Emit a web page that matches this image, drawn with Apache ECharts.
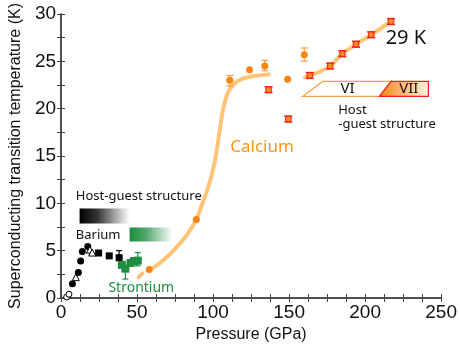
<!DOCTYPE html>
<html><head><meta charset="utf-8">
<script src="https://cdn.jsdelivr.net/npm/echarts@6/dist/echarts.min.js"></script>
<style>html,body{margin:0;padding:0;background:#fff}#c{width:460px;height:349px}</style>
</head><body><div id="c"></div>
<script>
// Pressure (GPa) vs superconducting Tc (K) for Ba, Sr and Ca
const xTicks = [0, 50, 100, 150, 200, 250];
const yTicks = [0, 5, 10, 15, 20, 25, 30];

// Barium
const baCircles = [[7.5,1.5],[11.4,2.7],[12.9,3.9],[14,4.9],[17.6,5.45]];
const baOpenCircles = [[3.7,0.1],[5.2,0.4]];
const baTriangles = [[9.7,2.2],[19,5.1],[20.5,4.8]];
const baSquares = [[24.7,4.75],[31.7,4.45],[38.2,4.25]];
const baErr = [[38.2,4.25,5.0]];

// Strontium
const srSquares = [[40,3.5],[42.3,3.1],[45.7,3.7],[48,3.9],[50.5,3.95]];
const srErr = [[42.3,2.0,3.3],[50.5,3.4,4.8]];

// Calcium
const caPoints = [[58,3.0],[89,8.3],[111,23.0],[124,24.1],[134,24.5],[149,23.1],[160,25.7]];
const caErr = [[111,22.4,23.5],[134,24.0,25.1],[160,25.0,26.4]];
const caVII = [[136.5,22.0],[149.5,18.9],[163.6,23.5],[177,24.5],[185,25.8],[194,26.8],[204,27.8],[217,29.2]];
const caVIIerr = caVII.map(p => [p[0], p[1]-0.3, p[1]+0.3]);
const caCurve = [[57.5,2.9],[65,3.7],[72,4.7],[82.5,6.6],[89,8.3],[93,10],[96.6,11.6],[100,13.6],[102,15.2],[104,17.3],[106.3,19.7],[108.5,21.1],[111,22.1],[117,23.0],[125.6,23.4],[136.6,23.6]];
const caCurveLow = [[51,2.2],[53.5,2.6]];
const caCurveHigh = [[160.5,23.3],[163.6,23.5],[170,23.9],[177,24.5],[185,25.8],[194,26.8],[204,27.8],[217,29.2]];

// Structure bands [x0, x1, yTop, yBottom]
const baBand = [12.2, 45.1, 9.44, 7.87];
const srBand = [45.1, 73.5, 7.45, 5.98];
// Phase VI / VII boxes (polygon corners in data units)
const phaseVI = [[159.1,21.3],[172,22.87],[217.1,22.87],[209.4,21.3]];
const phaseVII = [[209.4,21.3],[217.1,22.87],[241.6,22.87],[241.6,21.3]];

const FONT = 'Liberation Sans';
const ORANGE = '#f7850f';
const CURVE = '#ffc475';
const RED = '#ee1c1c';
const GREEN = '#1f8d3f';

function errSeries(data, color, capHalf, width) {
  return {
    type: 'custom', data: data, z: 3,
    renderItem: function (params, api) {
      const x = api.value(0);
      const lo = api.coord([x, api.value(1)]);
      const hi = api.coord([x, api.value(2)]);
      const st = { stroke: color, lineWidth: width || 1.2 };
      return { type: 'group', children: [
        { type: 'line', shape: { x1: lo[0], y1: lo[1], x2: hi[0], y2: hi[1] }, style: st },
        { type: 'line', shape: { x1: lo[0]-capHalf, y1: lo[1], x2: lo[0]+capHalf, y2: lo[1] }, style: st },
        { type: 'line', shape: { x1: hi[0]-capHalf, y1: hi[1], x2: hi[0]+capHalf, y2: hi[1] }, style: st }
      ]};
    }
  };
}

function bandSeries(band, color) {
  return {
    type: 'custom', data: [band], z: 1,
    renderItem: function (params, api) {
      const a = api.coord([api.value(0), api.value(2)]);
      const b = api.coord([api.value(1), api.value(3)]);
      return { type: 'rect', shape: { x: a[0], y: a[1], width: b[0]-a[0], height: b[1]-a[1] },
        style: { fill: new echarts.graphic.LinearGradient(0, 0, 1, 0, [
          { offset: 0, color: color }, { offset: 0.35, color: color + 'cc' }, { offset: 1, color: color + '00' }]) } };
    }
  };
}

function polySeries(poly, stroke, fill) {
  return {
    type: 'custom', data: [0], z: 1,
    renderItem: function (params, api) {
      return { type: 'polygon', shape: { points: poly.map(p => api.coord(p)) },
        style: { fill: fill, stroke: stroke, lineWidth: 1.2 } };
    }
  };
}

function scatter(data, symbol, size, color, border, z) {
  return { type: 'scatter', data: data, symbol: symbol, symbolSize: size, z: z || 4,
    itemStyle: { color: color, borderColor: border || color, borderWidth: border ? 1 : 0, opacity: 1 } };
}

function curve(data, width) {
  return { type: 'line', data: data, smooth: 0.35, showSymbol: false, z: 2,
    lineStyle: { color: CURVE, width: width || 4, cap: 'round' } };
}

const axisLine = { show: true, lineStyle: { color: '#444', width: 1.5 } };
const tickStyle = { lineStyle: { color: '#444', width: 1 } };

const chart = echarts.init(document.getElementById('c'));
const option = {
  animation: false,
  grid: { left: 55, right: 17, top: 12, bottom: 51 },
  xAxis: [
    { type: 'value', min: xTicks[0], max: xTicks[xTicks.length-1], interval: 50, position: 'bottom',
      axisLine: axisLine, splitLine: { show: false },
      axisTick: { inside: true, length: 4, ...tickStyle },
      minorTick: { show: true, splitNumber: 4, length: 4, ...tickStyle },
      axisLabel: { color: '#111', fontFamily: FONT, fontSize: 19, margin: 5 },
      name: 'Pressure (GPa)', nameLocation: 'middle', nameGap: 27,
      nameTextStyle: { color: '#111', fontFamily: FONT, fontSize: 16 } },
    { type: 'value', min: 0, max: 250, interval: 50, position: 'top',
      axisLine: axisLine, splitLine: { show: false }, axisLabel: { show: false },
      axisTick: { inside: true, length: 4, ...tickStyle },
      minorTick: { show: true, splitNumber: 4, length: 4, ...tickStyle } }
  ],
  yAxis: [
    { type: 'value', min: yTicks[0], max: yTicks[yTicks.length-1], interval: 5, position: 'left',
      axisLine: axisLine, splitLine: { show: false },
      axisTick: { inside: true, length: 4, ...tickStyle },
      minorTick: { show: true, splitNumber: 2, length: 4, ...tickStyle },
      axisLabel: { color: '#111', fontFamily: FONT, fontSize: 19, margin: 5 },
      name: 'Superconducting transition temperature (K)', nameLocation: 'middle', nameGap: 34,
      nameTextStyle: { color: '#111', fontFamily: FONT, fontSize: 16 } },
    { type: 'value', min: 0, max: 30, interval: 5, position: 'right',
      axisLine: axisLine, splitLine: { show: false }, axisLabel: { show: false },
      axisTick: { inside: true, length: 4, ...tickStyle },
      minorTick: { show: true, splitNumber: 2, length: 4, ...tickStyle } }
  ],
  series: [
    bandSeries(baBand, '#000000'),
    bandSeries(srBand, '#1f8d3f'),
    polySeries(phaseVI, '#f7a04a', '#ffffff'),
    polySeries(phaseVII, RED, new echarts.graphic.LinearGradient(0, 0, 1, 0, [
      { offset: 0, color: '#f7850f' }, { offset: 1, color: '#fff3e6' }])),
    curve(caCurve), curve(caCurveLow), curve(caCurveHigh),
    errSeries(baErr, '#000', 3),
    errSeries(srErr, GREEN, 3),
    errSeries(caErr, '#f7a04a', 3.5),
    errSeries(caVIIerr, RED, 4, 1.6),
    scatter(baOpenCircles, 'circle', 6, '#fff', '#000'),
    scatter(baCircles, 'circle', 7, '#000'),
    scatter(baTriangles, 'triangle', 7, '#fff', '#000'),
    scatter(baSquares, 'rect', 7, '#000'),
    scatter(srSquares, 'rect', 8, GREEN),
    scatter(caPoints, 'circle', 7, ORANGE),
    scatter(caVII, 'circle', 6, '#ff8c1a', RED, 5)
  ]
};
chart.setOption(option);

// Text annotations anchored in data units
const notes = [
  { t: 'Host-guest structure', at: [9.7, 10.7], c: '#111', s: 13, a: 'left' },
  { t: 'Barium', at: [9.7, 6.6], c: '#111', s: 13, a: 'left' },
  { t: 'Strontium', at: [52.8, 1.1], c: GREEN, s: 14, a: 'center' },
  { t: 'Calcium', at: [111.3, 15.9], c: '#f7941d', s: 17, a: 'left' },
  { t: '29 K', at: [213.5, 27.4], c: '#111', s: 20, a: 'left' },
  { t: 'VI', at: [188.5, 22.05], c: '#111', s: 15, a: 'center' },
  { t: 'VII', at: [228.7, 22.05], c: '#111', s: 15, a: 'center' },
  { t: 'Host', at: [182.3, 19.8], c: '#111', s: 13, a: 'left' },
  { t: '-guest structure', at: [182.3, 18.35], c: '#111', s: 13, a: 'left' }
];
chart.setOption({ graphic: notes.map(n => {
  const p = chart.convertToPixel({ xAxisIndex: 0, yAxisIndex: 0 }, n.at);
  return { type: 'text', x: p[0], y: p[1], z: 10,
    style: { text: n.t, fill: n.c, font: n.s + 'px "Noto Sans", sans-serif', align: n.a, verticalAlign: 'middle' } };
}) });
</script></body></html>
